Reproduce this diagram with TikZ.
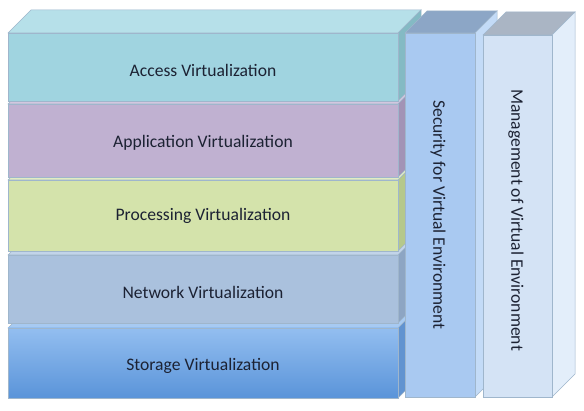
\documentclass[tikz,border=0pt]{standalone}
\usepackage{fontspec}
\setmainfont{Carlito}
\definecolor{txt}{HTML}{1C2233}
\definecolor{edge}{HTML}{9FB6CC}
\definecolor{accF}{HTML}{A0D4E0}\definecolor{accT}{HTML}{B6E0E9}\definecolor{accS}{HTML}{84BAC4}
\definecolor{appF}{HTML}{C0B1D1}\definecolor{appT}{HTML}{D3C7DF}\definecolor{appS}{HTML}{A293B6}
\definecolor{proF}{HTML}{D4E3AB}\definecolor{proT}{HTML}{E2ECC2}\definecolor{proS}{HTML}{B5C88B}
\definecolor{netF}{HTML}{AAC1DD}\definecolor{netT}{HTML}{C2D4E9}\definecolor{netS}{HTML}{8DA5C3}
\definecolor{stoA}{HTML}{93BEF0}\definecolor{stoB}{HTML}{5A94D9}\definecolor{stoT}{HTML}{A7CAF2}\definecolor{stoS}{HTML}{6193D0}
\definecolor{secF}{HTML}{A9C9F1}\definecolor{secT}{HTML}{8CA6C6}\definecolor{secS}{HTML}{C3DBF7}
\definecolor{manF}{HTML}{D4E3F5}\definecolor{manT}{HTML}{AAB5C4}\definecolor{manS}{HTML}{E3EEFA}
% #1 x1, #2 ytop, #3 x2, #4 ybottom, #5 front style, #6 top colour, #7 side colour, #8 depth
\newcommand\drawcuboid[8]{%
  \path[fill=#6,draw=edge,line width=0.5pt] (#1,#2) -- ++(#8,-#8) -- (#3+#8,#2-#8) -- (#3,#2) -- cycle;
  \path[fill=#7,draw=edge,line width=0.5pt] (#3,#2) -- (#3+#8,#2-#8) -- (#3+#8,#4-#8) -- (#3,#4) -- cycle;
  \path[#5,draw=edge,line width=0.5pt] (#1,#2) rectangle (#3,#4);
}
\tikzset{
  lbl/.style={text=txt,font=\fontsize{17.6}{20}\selectfont,inner sep=0pt},
  vlbl/.style={lbl,rotate=-90}
}
\begin{document}
\begin{tikzpicture}[x=1pt,y=-1pt]
\useasboundingbox[fill=white] (0,0) rectangle (584,411);
% layers, bottom first
\drawcuboid{8}{328}{398}{398}{top color=stoA,bottom color=stoB}{stoT}{stoS}{23}
\drawcuboid{8}{255}{398}{323}{fill=netF}{netT}{netS}{23}
\drawcuboid{8}{180}{398}{251}{fill=proF}{proT}{proS}{23}
\drawcuboid{8}{104}{398}{177}{fill=appF}{appT}{appS}{23}
\drawcuboid{8}{33}{398}{101}{fill=accF}{accT}{accS}{23}
% columns
\drawcuboid{405}{33}{475}{397}{fill=secF}{secT}{secS}{22}
\drawcuboid{483}{35}{552}{397}{fill=manF}{manT}{manS}{23}
% labels
\node[lbl] (acc) at (203,70) {Access Virtualization};
\node[lbl] (app) at (203,143) {Application Virtualization};
\node[lbl] (pro) at (203,216) {Processing Virtualization};
\node[lbl] (net) at (203,292) {Network Virtualization};
\node[lbl] (sto) at (203,366) {Storage Virtualization};
\node[vlbl] (sec) at (438,215) {Security for Virtual Environment};
\node[vlbl] (man) at (516,220) {Management of Virtual Environment};
\end{tikzpicture}
\end{document}
